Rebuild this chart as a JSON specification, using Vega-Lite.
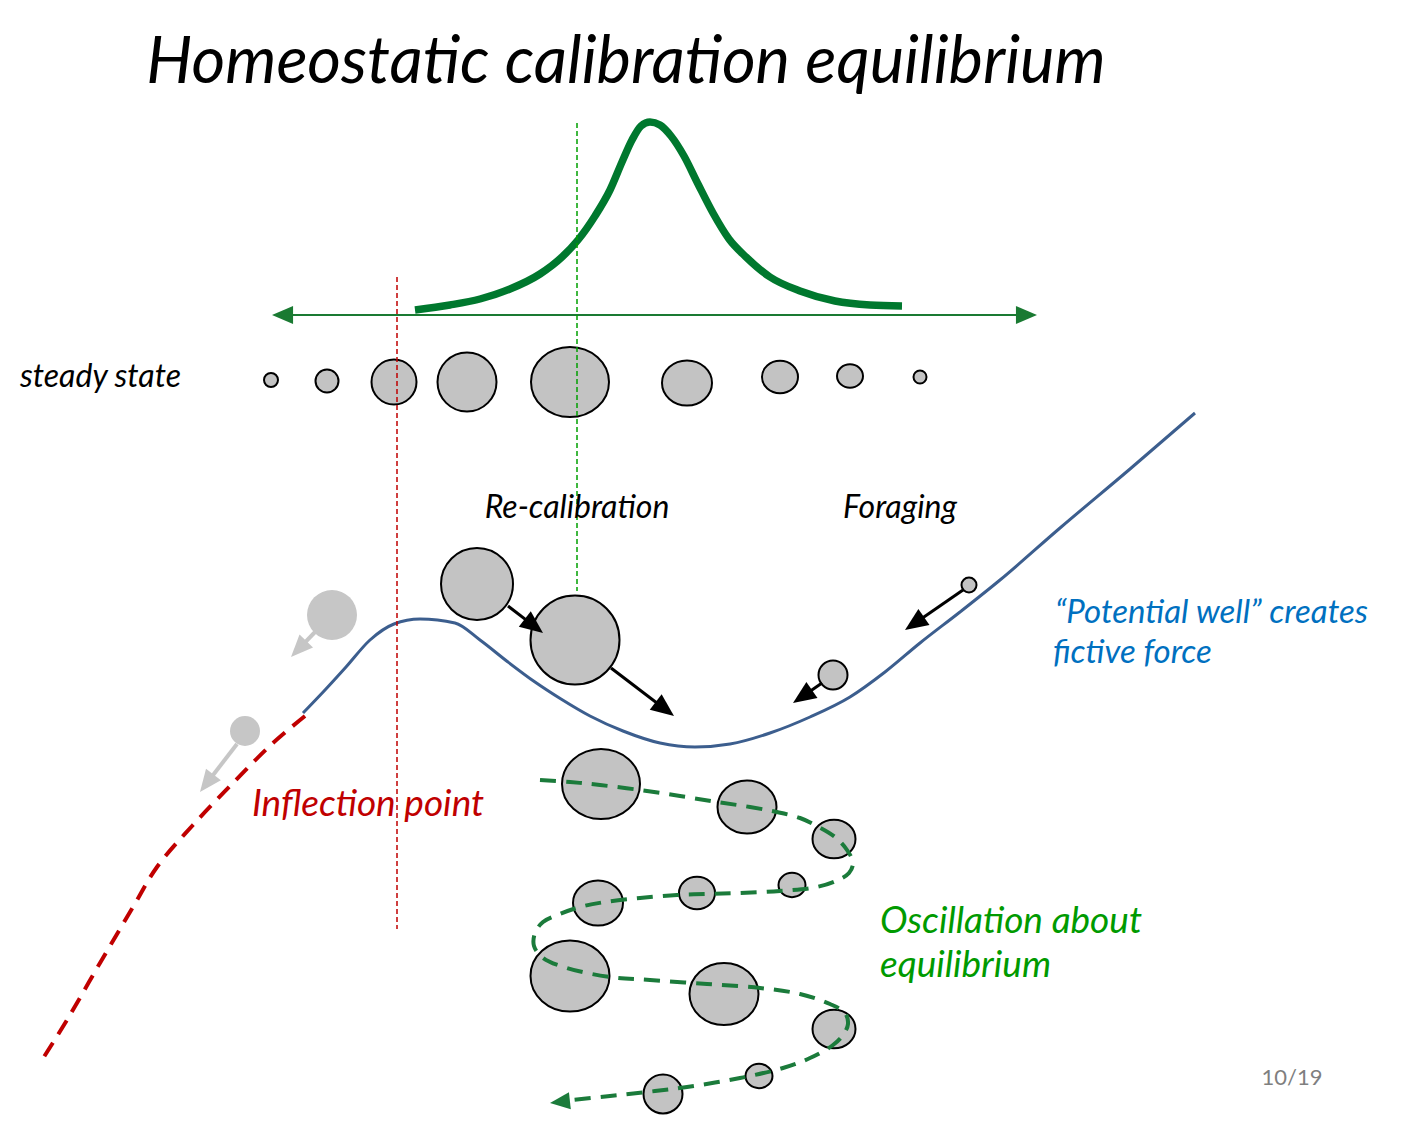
{
  "$schema": "https://vega.github.io/schema/vega-lite/v6.json",
  "width": 1404,
  "height": 1125,
  "autosize": {"type": "fit", "contains": "padding"},
  "padding": 0,
  "background": "white",
  "config": {"view": {"stroke": null}},
  "datasets": {
    "lines": [
      {"s": "bell", "i": 0, "x": 415, "y": 310},
      {"s": "bell", "i": 1, "x": 450, "y": 305},
      {"s": "bell", "i": 2, "x": 480, "y": 299},
      {"s": "bell", "i": 3, "x": 510, "y": 289},
      {"s": "bell", "i": 4, "x": 540, "y": 274},
      {"s": "bell", "i": 5, "x": 562, "y": 257},
      {"s": "bell", "i": 6, "x": 578, "y": 240},
      {"s": "bell", "i": 7, "x": 595, "y": 216},
      {"s": "bell", "i": 8, "x": 610, "y": 190},
      {"s": "bell", "i": 9, "x": 622, "y": 162},
      {"s": "bell", "i": 10, "x": 632, "y": 140},
      {"s": "bell", "i": 11, "x": 641, "y": 126},
      {"s": "bell", "i": 12, "x": 650, "y": 122},
      {"s": "bell", "i": 13, "x": 660, "y": 125},
      {"s": "bell", "i": 14, "x": 671, "y": 136},
      {"s": "bell", "i": 15, "x": 684, "y": 156},
      {"s": "bell", "i": 16, "x": 698, "y": 184},
      {"s": "bell", "i": 17, "x": 713, "y": 213},
      {"s": "bell", "i": 18, "x": 729, "y": 239},
      {"s": "bell", "i": 19, "x": 746, "y": 257},
      {"s": "bell", "i": 20, "x": 770, "y": 277},
      {"s": "bell", "i": 21, "x": 800, "y": 291},
      {"s": "bell", "i": 22, "x": 835, "y": 301},
      {"s": "bell", "i": 23, "x": 870, "y": 305},
      {"s": "bell", "i": 24, "x": 902, "y": 306},
      {"s": "axis", "i": 0, "x": 285, "y": 315},
      {"s": "axis", "i": 1, "x": 1024, "y": 315},
      {"s": "blue", "i": 0, "x": 303, "y": 713},
      {"s": "blue", "i": 1, "x": 325, "y": 690},
      {"s": "blue", "i": 2, "x": 346, "y": 667},
      {"s": "blue", "i": 3, "x": 370, "y": 640},
      {"s": "blue", "i": 4, "x": 394, "y": 624},
      {"s": "blue", "i": 5, "x": 420, "y": 619},
      {"s": "blue", "i": 6, "x": 455, "y": 623},
      {"s": "blue", "i": 7, "x": 480, "y": 640},
      {"s": "blue", "i": 8, "x": 508, "y": 662},
      {"s": "blue", "i": 9, "x": 535, "y": 682},
      {"s": "blue", "i": 10, "x": 561, "y": 699},
      {"s": "blue", "i": 11, "x": 590, "y": 716},
      {"s": "blue", "i": 12, "x": 623, "y": 731},
      {"s": "blue", "i": 13, "x": 660, "y": 743},
      {"s": "blue", "i": 14, "x": 695, "y": 747},
      {"s": "blue", "i": 15, "x": 730, "y": 744},
      {"s": "blue", "i": 16, "x": 770, "y": 733},
      {"s": "blue", "i": 17, "x": 810, "y": 717},
      {"s": "blue", "i": 18, "x": 850, "y": 697},
      {"s": "blue", "i": 19, "x": 885, "y": 672},
      {"s": "blue", "i": 20, "x": 920, "y": 643},
      {"s": "blue", "i": 21, "x": 960, "y": 612},
      {"s": "blue", "i": 22, "x": 1000, "y": 580},
      {"s": "blue", "i": 23, "x": 1060, "y": 528},
      {"s": "blue", "i": 24, "x": 1130, "y": 469},
      {"s": "blue", "i": 25, "x": 1195, "y": 413},
      {"s": "red", "i": 0, "x": 305, "y": 716},
      {"s": "red", "i": 1, "x": 273, "y": 743},
      {"s": "red", "i": 2, "x": 233, "y": 783},
      {"s": "red", "i": 3, "x": 193, "y": 825},
      {"s": "red", "i": 4, "x": 157, "y": 867},
      {"s": "red", "i": 5, "x": 133, "y": 907},
      {"s": "red", "i": 6, "x": 100, "y": 963},
      {"s": "red", "i": 7, "x": 67, "y": 1020},
      {"s": "red", "i": 8, "x": 42, "y": 1060},
      {"s": "vred", "i": 0, "x": 397, "y": 277},
      {"s": "vred", "i": 1, "x": 397, "y": 929},
      {"s": "vgreen", "i": 0, "x": 577, "y": 123},
      {"s": "vgreen", "i": 1, "x": 577, "y": 591},
      {"s": "osc", "i": 0, "x": 540, "y": 780},
      {"s": "osc", "i": 1, "x": 570, "y": 782},
      {"s": "osc", "i": 2, "x": 600, "y": 785},
      {"s": "osc", "i": 3, "x": 640, "y": 790},
      {"s": "osc", "i": 4, "x": 680, "y": 796},
      {"s": "osc", "i": 5, "x": 717, "y": 802},
      {"s": "osc", "i": 6, "x": 750, "y": 807},
      {"s": "osc", "i": 7, "x": 777, "y": 812},
      {"s": "osc", "i": 8, "x": 800, "y": 818},
      {"s": "osc", "i": 9, "x": 817, "y": 826},
      {"s": "osc", "i": 10, "x": 835, "y": 837},
      {"s": "osc", "i": 11, "x": 847, "y": 850},
      {"s": "osc", "i": 12, "x": 853, "y": 863},
      {"s": "osc", "i": 13, "x": 849, "y": 873},
      {"s": "osc", "i": 14, "x": 838, "y": 880},
      {"s": "osc", "i": 15, "x": 817, "y": 887},
      {"s": "osc", "i": 16, "x": 780, "y": 891},
      {"s": "osc", "i": 17, "x": 740, "y": 893},
      {"s": "osc", "i": 18, "x": 707, "y": 894},
      {"s": "osc", "i": 19, "x": 677, "y": 895},
      {"s": "osc", "i": 20, "x": 640, "y": 898},
      {"s": "osc", "i": 21, "x": 605, "y": 902},
      {"s": "osc", "i": 22, "x": 580, "y": 907},
      {"s": "osc", "i": 23, "x": 560, "y": 914},
      {"s": "osc", "i": 24, "x": 543, "y": 922},
      {"s": "osc", "i": 25, "x": 535, "y": 933},
      {"s": "osc", "i": 26, "x": 534, "y": 946},
      {"s": "osc", "i": 27, "x": 543, "y": 958},
      {"s": "osc", "i": 28, "x": 567, "y": 968},
      {"s": "osc", "i": 29, "x": 610, "y": 977},
      {"s": "osc", "i": 30, "x": 650, "y": 980},
      {"s": "osc", "i": 31, "x": 707, "y": 984},
      {"s": "osc", "i": 32, "x": 760, "y": 988},
      {"s": "osc", "i": 33, "x": 800, "y": 994},
      {"s": "osc", "i": 34, "x": 830, "y": 1004},
      {"s": "osc", "i": 35, "x": 845, "y": 1013},
      {"s": "osc", "i": 36, "x": 848, "y": 1024},
      {"s": "osc", "i": 37, "x": 843, "y": 1035},
      {"s": "osc", "i": 38, "x": 833, "y": 1045},
      {"s": "osc", "i": 39, "x": 810, "y": 1058},
      {"s": "osc", "i": 40, "x": 783, "y": 1068},
      {"s": "osc", "i": 41, "x": 740, "y": 1078},
      {"s": "osc", "i": 42, "x": 687, "y": 1087},
      {"s": "osc", "i": 43, "x": 647, "y": 1092},
      {"s": "osc", "i": 44, "x": 610, "y": 1096},
      {"s": "osc", "i": 45, "x": 572, "y": 1100}
    ],
    "balls": [
      {"g": "ss", "x": 271, "y": 380, "w": 14, "form": "round"},
      {"g": "ss", "x": 327, "y": 381, "w": 23, "form": "round"},
      {"g": "ss", "x": 394, "y": 382, "w": 45, "form": "round"},
      {"g": "ss", "x": 467, "y": 382, "w": 59, "form": "round"},
      {"g": "ss", "x": 570, "y": 382, "w": 78, "form": "wide"},
      {"g": "ss", "x": 687, "y": 383, "w": 50, "form": "wide"},
      {"g": "ss", "x": 780, "y": 377, "w": 36, "form": "wide"},
      {"g": "ss", "x": 850, "y": 376, "w": 26, "form": "wide"},
      {"g": "ss", "x": 920, "y": 377, "w": 13, "form": "round"},
      {"g": "move", "x": 477, "y": 584, "w": 72, "form": "round"},
      {"g": "move", "x": 575, "y": 640, "w": 89, "form": "round"},
      {"g": "move", "x": 969, "y": 585, "w": 15, "form": "round"},
      {"g": "move", "x": 833, "y": 675, "w": 29, "form": "round"},
      {"g": "ghost", "x": 332, "y": 615, "w": 50, "form": "round"},
      {"g": "ghost", "x": 245, "y": 731, "w": 30, "form": "round"},
      {"g": "osc", "x": 601, "y": 784, "w": 78, "form": "wide"},
      {"g": "osc", "x": 747, "y": 807, "w": 59, "form": "wide"},
      {"g": "osc", "x": 834, "y": 839, "w": 43, "form": "wide"},
      {"g": "osc", "x": 598, "y": 903, "w": 50, "form": "wide"},
      {"g": "osc", "x": 697, "y": 893, "w": 36, "form": "wide"},
      {"g": "osc", "x": 792, "y": 885, "w": 27, "form": "wide"},
      {"g": "osc", "x": 570, "y": 976, "w": 79, "form": "wide"},
      {"g": "osc", "x": 724, "y": 994, "w": 69, "form": "wide"},
      {"g": "osc", "x": 834, "y": 1029, "w": 43, "form": "wide"},
      {"g": "osc", "x": 759, "y": 1076, "w": 27, "form": "wide"},
      {"g": "osc", "x": 663, "y": 1094, "w": 39, "form": "round"}
    ],
    "arrows": [
      {"k": "black", "x": 508, "y": 606, "x2": 543, "y2": 633},
      {"k": "black", "x": 611, "y": 668, "x2": 674, "y2": 716},
      {"k": "black", "x": 963, "y": 590, "x2": 905, "y2": 630},
      {"k": "black", "x": 822, "y": 683, "x2": 793, "y2": 703},
      {"k": "grey", "x": 316, "y": 631, "x2": 291, "y2": 657},
      {"k": "grey", "x": 237, "y": 744, "x2": 200, "y2": 792},
      {"k": "axis", "x": 292, "y": 315, "x2": 272, "y2": 315},
      {"k": "axis", "x": 1017, "y": 315, "x2": 1037, "y2": 315},
      {"k": "osc", "x": 577, "y": 1100, "x2": 550, "y2": 1103}
    ],
    "texts": [
      {"k": "title", "t": "Homeostatic calibration equilibrium", "x": 626, "y": 83},
      {"k": "labelL", "t": "steady state", "x": 20, "y": 387},
      {"k": "labelC", "t": "Re-calibration", "x": 577, "y": 518},
      {"k": "labelC", "t": "Foraging", "x": 900, "y": 518},
      {"k": "blue", "t": "\u201cPotential well\u201d creates", "x": 1055, "y": 623},
      {"k": "blue", "t": "fictive force", "x": 1053, "y": 663},
      {"k": "red", "t": "Inflection point", "x": 252, "y": 816},
      {"k": "green", "t": "Oscillation about", "x": 880, "y": 933},
      {"k": "green", "t": "equilibrium", "x": 880, "y": 977},
      {"k": "page", "t": "10/19", "x": 1292, "y": 1085}
    ]
  },
  "encoding": {
    "x": {"field": "x", "type": "quantitative", "scale": {"domain": [0, 1404], "nice": false, "zero": false}, "axis": null},
    "y": {"field": "y", "type": "quantitative", "scale": {"domain": [0, 1125], "nice": false, "zero": false, "reverse": true}, "axis": null}
  },
  "layer": [
    {
      "data": {"name": "lines"},
      "transform": [{"filter": "datum.s == 'blue'"}],
      "mark": {"type": "line", "stroke": "#3c5e8e", "strokeWidth": 3, "interpolate": "monotone"},
      "encoding": {"order": {"field": "i", "type": "quantitative"}}
    },
    {
      "data": {"name": "lines"},
      "transform": [{"filter": "datum.s == 'red'"}],
      "mark": {"type": "line", "stroke": "#c00000", "strokeWidth": 4, "strokeDash": [16, 10], "interpolate": "catmull-rom"},
      "encoding": {"order": {"field": "i", "type": "quantitative"}}
    },
    {
      "data": {"name": "lines"},
      "transform": [{"filter": "datum.s == 'bell'"}],
      "mark": {"type": "line", "stroke": "#00782e", "strokeWidth": 7.5, "strokeCap": "butt", "interpolate": "monotone"},
      "encoding": {"order": {"field": "i", "type": "quantitative"}}
    },
    {
      "data": {"name": "lines"},
      "transform": [{"filter": "datum.s == 'axis'"}],
      "mark": {"type": "line", "stroke": "#1a7a32", "strokeWidth": 2},
      "encoding": {"order": {"field": "i", "type": "quantitative"}}
    },
    {
      "data": {"name": "balls"},
      "transform": [{"filter": "datum.g == 'ghost'"}],
      "mark": {"type": "point", "filled": true, "fill": "#c6c6c6", "opacity": 1, "strokeWidth": 0},
      "encoding": {
        "size": {"field": "w", "type": "quantitative", "scale": {"type": "pow", "exponent": 2, "domain": [0, 100], "range": [0, 10000]}, "legend": null},
        "shape": {"value": "circle"}
      }
    },
    {
      "data": {"name": "balls"},
      "transform": [{"filter": "datum.g != 'ghost'"}],
      "mark": {"type": "point", "filled": true, "fill": "#c3c3c3", "stroke": "#000000", "strokeWidth": 2, "opacity": 1},
      "encoding": {
        "size": {"field": "w", "type": "quantitative", "scale": {"type": "pow", "exponent": 2, "domain": [0, 100], "range": [0, 10000]}, "legend": null},
        "shape": {"field": "form", "type": "nominal", "scale": {"domain": ["round", "wide"], "range": ["circle", "M-1,0 A1,0.9 0 0,1 1,0 A1,0.9 0 0,1 -1,0 Z"]}, "legend": null}
      }
    },
    {
      "data": {"name": "lines"},
      "transform": [{"filter": "datum.s == 'vred'"}],
      "mark": {"type": "line", "stroke": "#c00000", "strokeWidth": 1.5, "strokeDash": [5, 3]},
      "encoding": {"order": {"field": "i", "type": "quantitative"}}
    },
    {
      "data": {"name": "lines"},
      "transform": [{"filter": "datum.s == 'vgreen'"}],
      "mark": {"type": "line", "stroke": "#00a000", "strokeWidth": 1.5, "strokeDash": [5, 3]},
      "encoding": {"order": {"field": "i", "type": "quantitative"}}
    },
    {
      "data": {"name": "lines"},
      "transform": [{"filter": "datum.s == 'osc'"}],
      "mark": {"type": "line", "stroke": "#1b7b3b", "strokeWidth": 4, "strokeDash": [16, 10], "interpolate": "catmull-rom"},
      "encoding": {"order": {"field": "i", "type": "quantitative"}}
    },
    {
      "data": {"name": "arrows"},
      "transform": [
        {"filter": "datum.k == 'black' || datum.k == 'grey'"},
        {"calculate": "sqrt(pow(datum.x2 - datum.x, 2) + pow(datum.y2 - datum.y, 2))", "as": "len"},
        {"calculate": "datum.x2 - (datum.x2 - datum.x) / datum.len * 12", "as": "xe"},
        {"calculate": "datum.y2 - (datum.y2 - datum.y) / datum.len * 12", "as": "ye"}
      ],
      "mark": {"type": "rule", "strokeCap": "butt"},
      "encoding": {
        "x2": {"field": "xe"},
        "y2": {"field": "ye"},
        "stroke": {"field": "k", "type": "nominal", "scale": {"domain": ["black", "grey"], "range": ["#000000", "#c6c6c6"]}, "legend": null},
        "strokeWidth": {"field": "k", "type": "nominal", "scale": {"domain": ["black", "grey"], "range": [3, 4]}, "legend": null}
      }
    },
    {
      "data": {"name": "arrows"},
      "transform": [
        {"calculate": "atan2(datum.x2 - datum.x, datum.y - datum.y2) * 180 / PI", "as": "ang"}
      ],
      "mark": {"type": "point", "filled": true, "opacity": 1, "strokeWidth": 0, "shape": "M0,0 L0.85,2 L-0.85,2 Z"},
      "encoding": {
        "x": {"field": "x2", "type": "quantitative"},
        "y": {"field": "y2", "type": "quantitative"},
        "angle": {"field": "ang", "type": "quantitative", "scale": null},
        "fill": {"field": "k", "type": "nominal", "scale": {"domain": ["black", "grey", "axis", "osc"], "range": ["#000000", "#c6c6c6", "#1a7a32", "#1b7b3b"]}, "legend": null},
        "size": {"field": "k", "type": "nominal", "scale": {"domain": ["black", "grey", "axis", "osc"], "range": [529, 400, 420, 484]}, "legend": null}
      }
    },
    {
      "data": {"name": "texts"},
      "transform": [{"filter": "datum.k == 'title'"}],
      "mark": {"type": "text", "font": "Lato", "fontStyle": "italic", "fontWeight": 400, "fontSize": 65, "align": "center", "baseline": "alphabetic", "color": "#000000"},
      "encoding": {"text": {"field": "t"}}
    },
    {
      "data": {"name": "texts"},
      "transform": [{"filter": "datum.k == 'labelL'"}],
      "mark": {"type": "text", "font": "Lato", "fontStyle": "italic", "fontSize": 32, "align": "left", "baseline": "alphabetic", "color": "#000000"},
      "encoding": {"text": {"field": "t"}}
    },
    {
      "data": {"name": "texts"},
      "transform": [{"filter": "datum.k == 'labelC'"}],
      "mark": {"type": "text", "font": "Lato", "fontStyle": "italic", "fontSize": 32, "align": "center", "baseline": "alphabetic", "color": "#000000"},
      "encoding": {"text": {"field": "t"}}
    },
    {
      "data": {"name": "texts"},
      "transform": [{"filter": "datum.k == 'blue'"}],
      "mark": {"type": "text", "font": "Lato", "fontStyle": "italic", "fontSize": 33, "align": "left", "baseline": "alphabetic", "color": "#0070c0"},
      "encoding": {"text": {"field": "t"}}
    },
    {
      "data": {"name": "texts"},
      "transform": [{"filter": "datum.k == 'red'"}],
      "mark": {"type": "text", "font": "Lato", "fontStyle": "italic", "fontSize": 37, "align": "left", "baseline": "alphabetic", "color": "#c00000"},
      "encoding": {"text": {"field": "t"}}
    },
    {
      "data": {"name": "texts"},
      "transform": [{"filter": "datum.k == 'green'"}],
      "mark": {"type": "text", "font": "Lato", "fontStyle": "italic", "fontSize": 37, "align": "left", "baseline": "alphabetic", "color": "#009a00"},
      "encoding": {"text": {"field": "t"}}
    },
    {
      "data": {"name": "texts"},
      "transform": [{"filter": "datum.k == 'page'"}],
      "mark": {"type": "text", "font": "Lato", "fontSize": 22, "align": "center", "baseline": "alphabetic", "color": "#7f7f7f"},
      "encoding": {"text": {"field": "t"}}
    }
  ]
}
